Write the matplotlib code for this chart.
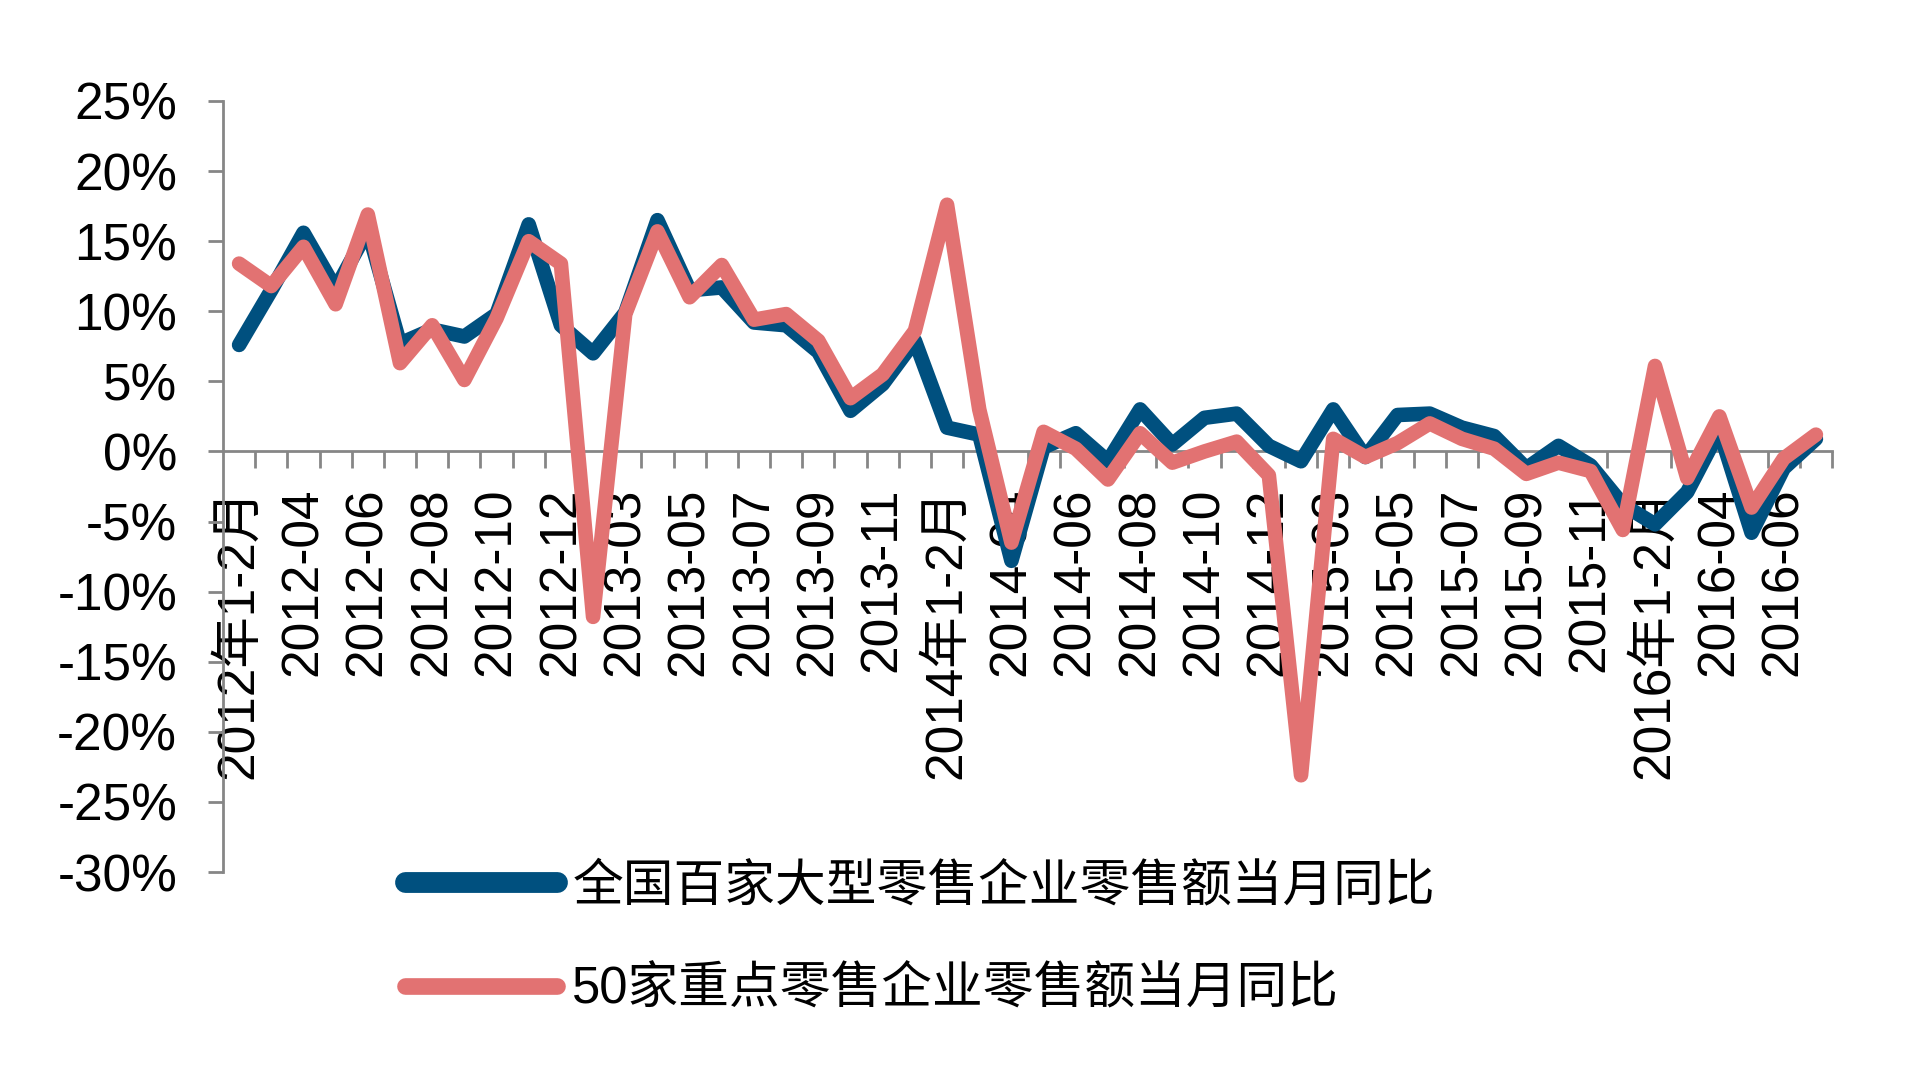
import matplotlib
matplotlib.use("Agg")
import matplotlib.pyplot as plt
from matplotlib.ticker import FuncFormatter, FixedLocator

plt.rcParams['font.family'] = ['Liberation Sans', 'Noto Sans CJK SC']

# categories: 2012-01/02 combined ... 2016-07
years = [2012, 2013, 2014, 2015]
categories = []
for y in years:
    categories.append(f"{y}年1-2月")
    categories += [f"{y}-{m:02d}" for m in range(3, 13)]
categories += ["2016年1-2月", "2016-03", "2016-04", "2016-05", "2016-06", "2016-07"]

# 全国百家大型零售企业零售额当月同比 (%)
baijia = [7.6, 11.5, 15.6, 11.6, 15.8, 7.7, 8.7, 8.2, 9.8, 16.2,
          9.0, 7.0, 9.9, 16.5, 11.5, 11.7, 9.2, 9.0, 7.1, 2.9,
          4.8, 7.9, 1.7, 1.2, -7.8, 0.3, 1.3, -0.7, 3.0, 0.5,
          2.4, 2.7, 0.4, -0.7, 3.0, -0.4, 2.6, 2.7, 1.7, 1.1,
          -1.2, 0.4, -1.0, -3.8, -5.2, -2.9, 1.5, -5.8, -1.2, 0.9]

# 50家重点零售企业零售额当月同比 (%)
wushi = [13.4, 11.8, 14.6, 10.5, 16.9, 6.3, 9.0, 5.1, 9.5, 15.0,
         13.4, -11.8, 9.8, 15.7, 11.0, 13.3, 9.4, 9.8, 7.9, 3.8,
         5.5, 8.6, 17.6, 3.0, -6.5, 1.4, 0.2, -2.0, 1.3, -0.8,
         0.0, 0.7, -1.7, -23.1, 0.9, -0.4, 0.6, 2.0, 0.9, 0.2,
         -1.6, -0.8, -1.4, -5.6, 6.1, -1.9, 2.5, -4.0, -0.5, 1.2]

names = ["全国百家大型零售企业零售额当月同比", "50家重点零售企业零售额当月同比"]

BLUE = '#00507F'
RED = '#E27272'
AXIS = '#868686'
FS = 37

fig = plt.figure(figsize=(19.2, 10.66), dpi=100)
ax = fig.add_axes([223 / 1920, 1 - 872 / 1066, (1832 - 223) / 1920, (872 - 101) / 1066])

x = list(range(len(categories)))
ax.plot(x, baijia, color=BLUE, lw=10.5, solid_joinstyle='round',
        solid_capstyle='round', label=names[0], zorder=3)
ax.plot(x, wushi, color=RED, lw=10.5, solid_joinstyle='round',
        solid_capstyle='round', label=names[1], zorder=4)

ax.set_xlim(-0.5, len(categories) - 0.5)
ax.set_ylim(-30, 25)
ax.set_yticks(range(-30, 26, 5))
ax.yaxis.set_major_formatter(FuncFormatter(lambda v, p: f"{v:.0f}%"))

# x axis sits on 0, ticks on category boundaries, labels every other category
for s in ['top', 'right']:
    ax.spines[s].set_visible(False)
ax.spines['bottom'].set_position(('data', 0))
ax.spines['bottom'].set_color(AXIS)
ax.spines['left'].set_color(AXIS)
ax.spines['bottom'].set_linewidth(2)
ax.spines['left'].set_linewidth(2)

ax.xaxis.set_major_locator(FixedLocator([i + 0.5 for i in range(len(categories))]))
ax.xaxis.set_major_formatter(FuncFormatter(lambda v, p: ""))
ax.set_xticks(x[::2], minor=True)
ax.set_xticklabels(categories[::2], minor=True, rotation=90, fontsize=FS,
                   va='top', ha='center')
ax.tick_params(axis='x', which='major', direction='out', length=12, width=2, color=AXIS)
ax.tick_params(axis='x', which='minor', length=0, pad=26)
ax.tick_params(axis='y', direction='out', length=11, width=2, color=AXIS,
               labelsize=FS, pad=22)

leg = fig.legend(loc='upper left', bbox_to_anchor=(405 / 1920, 1 - 862 / 1066),
                 frameon=False, fontsize=36.5, handlelength=3.0, handletextpad=0.3,
                 labelspacing=1.08, borderpad=0, borderaxespad=0)
leg.get_lines()[0].set_linewidth(15)
leg.get_lines()[1].set_linewidth(12)

fig.savefig("out.png", dpi=100, facecolor='white')
